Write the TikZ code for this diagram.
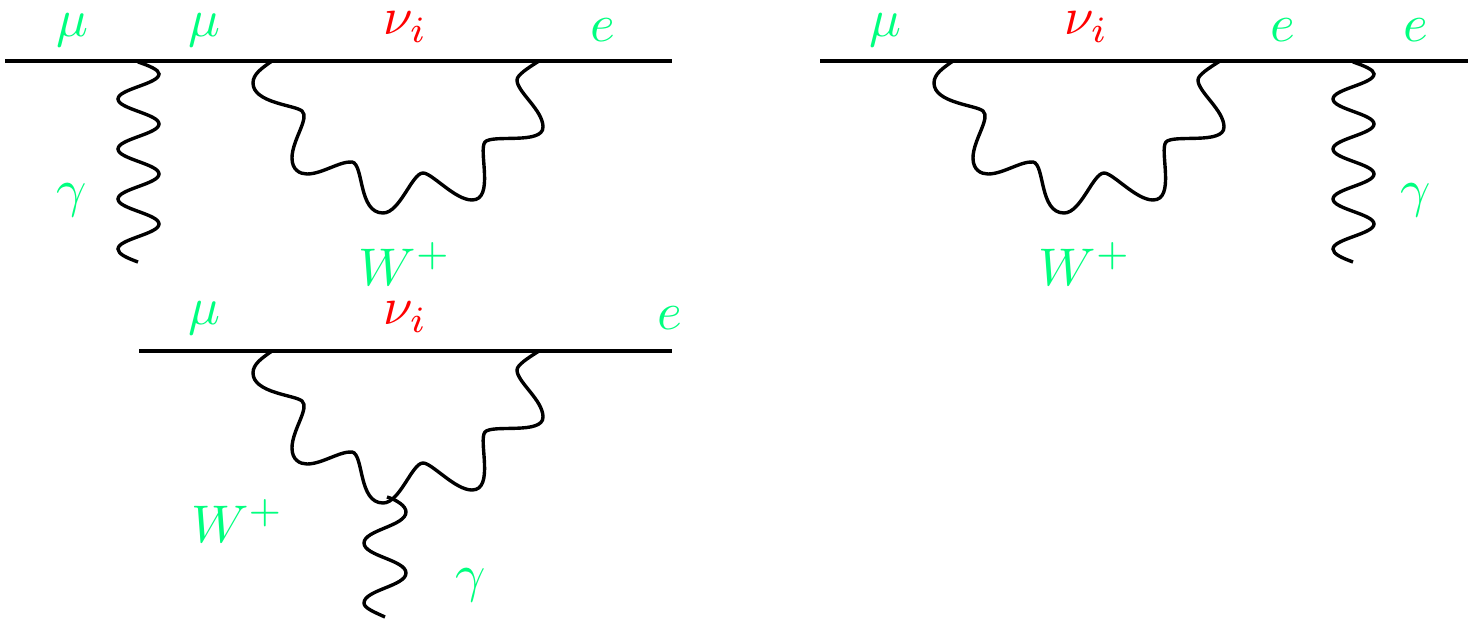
\documentclass[tikz,border=0pt]{standalone}
\definecolor{lbl}{RGB}{0,255,127}
\definecolor{nuc}{RGB}{255,0,0}
\tikzset{
  fermion/.style={draw=black,line width=1.6pt},
  boson/.style={draw=black,line width=1.7pt,line cap=butt},
  lab/.style={text=lbl,scale=2.65,inner sep=0pt},
  nulab/.style={text=nuc,scale=2.65,inner sep=0pt}
}
\newcommand{\wloopshape}{%
  \draw[boson] (272,61) .. controls (262,68) and (253,74) .. (253,83)
   .. controls (253,103) and (295,105) .. (302,111)
   .. controls (310,118) and (292,140) .. (292,158)
   .. controls (292,170) and (300,174) .. (307,174)
   .. controls (322,174) and (340,161) .. (352,162)
   .. controls (364,164) and (358,213) .. (383,213)
   .. controls (400,213) and (412,173) .. (423,173)
   .. controls (432,173) and (455,200) .. (472,200)
   .. controls (495,200) and (478,150) .. (485,142)
   .. controls (492,134) and (543,145) .. (543,127)
   .. controls (543,110) and (517,92) .. (517,80)
   .. controls (517,75) and (528,68) .. (539,61);}
\newcommand{\longphoton}{%
  \draw[boson] (138,62) .. controls (150,66) and (159,70) .. (159,74)
   .. controls (159,84) and (118,89) .. (118,99)
   .. controls (118,109) and (159,114) .. (159,124)
   .. controls (159,134) and (118,139) .. (118,149)
   .. controls (118,159) and (159,164) .. (159,174)
   .. controls (159,184) and (118,189) .. (118,199)
   .. controls (118,209) and (159,214) .. (159,224)
   .. controls (159,234) and (118,239) .. (118,249)
   .. controls (118,254) and (127,258) .. (138,262);}
\begin{document}
\begin{tikzpicture}[x=0.5pt,y=-0.5pt]
\useasboundingbox (0,0) rectangle (1468,621);
% diagram 1
\coordinate (a1) at (5,61); \coordinate (a2) at (405,61); \coordinate (a3) at (671.5,61);
\draw[fermion] (a1) -- (a2); \draw[fermion] (a2) -- (a3);
\longphoton
\wloopshape
\node[lab] (m1) at (72,30) {$\mu$};
\node[lab] (m2) at (204.5,30) {$\mu$};
\node[nulab] (n1) at (405.5,27) {$\nu_i$};
\node[lab] (e1) at (603,30) {$e$};
\node[lab] (g1) at (72,200) {$\gamma$};
\node[lab] (w1) at (405,264) {$W^+$};
% diagram 2
\coordinate (b1) at (820,61); \coordinate (b2) at (1086,61); \coordinate (b3) at (1468,61);
\draw[fermion] (b1) -- (b2); \draw[fermion] (b2) -- (b3);
\begin{scope}[shift={(681,0)}]\wloopshape\end{scope}
\begin{scope}[shift={(1215,0)}]\longphoton\end{scope}
\node[lab] (m3) at (885.5,30) {$\mu$};
\node[nulab] (n2) at (1086.5,27) {$\nu_i$};
\node[lab] (e2) at (1283,30) {$e$};
\node[lab] (e3) at (1416,30) {$e$};
\node[lab] (g2) at (1416,200) {$\gamma$};
\node[lab] (w2) at (1085,264) {$W^+$};
% diagram 3
\coordinate (c1) at (139,351); \coordinate (c2) at (405,351); \coordinate (c3) at (671.5,351);
\draw[fermion] (c1) -- (c2); \draw[fermion] (c2) -- (c3);
\begin{scope}[shift={(0,290)}]\wloopshape\end{scope}
\draw[boson] (387,497) .. controls (397,500) and (406,506) .. (406,512)
   .. controls (406,526) and (364,530) .. (364,543)
   .. controls (364,556) and (406,560) .. (406,573)
   .. controls (406,586) and (364,590) .. (364,603)
   .. controls (364,608) and (374,612) .. (385,617);
\node[lab] (m4) at (204.5,318) {$\mu$};
\node[nulab] (n3) at (405.5,317) {$\nu_i$};
\node[lab] (e4) at (669.5,318) {$e$};
\node[lab] (w3) at (237.5,521) {$W^+$};
\node[lab] (g3) at (470.5,585) {$\gamma$};
\end{tikzpicture}
\end{document}
